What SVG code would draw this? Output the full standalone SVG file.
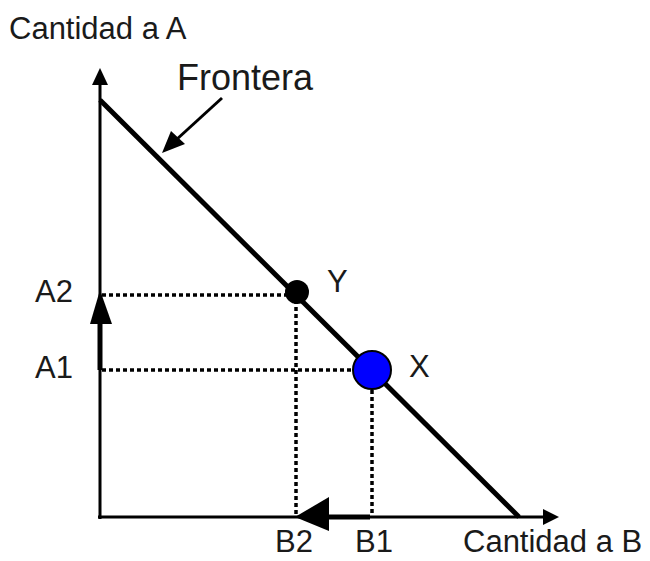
<svg xmlns="http://www.w3.org/2000/svg" width="650" height="561" viewBox="0 0 650 561">
<style>
text{font-family:"Liberation Sans",Arial,sans-serif;fill:#1a1a1a}
.lbl{font-size:31px}
.dash{stroke:#000;stroke-width:3.5;stroke-dasharray:4 3;fill:none}
.axis{stroke:#000;stroke-width:3;fill:none}
</style>
<rect width="650" height="561" fill="#fff"/>
<g id="connectors">
<line class="axis" x1="100" y1="519" x2="100" y2="84"/>
<polygon points="100,68 92,85 108,85" fill="#000"/>
<line class="axis" x1="98" y1="517" x2="545" y2="517"/>
<polygon points="559,517 543,509 543,525" fill="#000"/>
<line x1="100" y1="100" x2="519" y2="517" stroke="#000" stroke-width="5"/>
<line class="dash" x1="102" y1="295" x2="288" y2="295"/>
<line class="dash" x1="296" y1="300" x2="296" y2="515"/>
<line class="dash" x1="102" y1="370" x2="354" y2="370"/>
<line class="dash" x1="372" y1="390" x2="372" y2="515"/>
<line x1="100" y1="370" x2="100" y2="320" stroke="#000" stroke-width="5"/>
<polygon points="100,290 90,324 112,324" fill="#000"/>
<line x1="370" y1="517" x2="326" y2="517" stroke="#000" stroke-width="5"/>
<polygon points="295,517 329,497 329,531" fill="#000"/>
<line x1="222" y1="98" x2="176" y2="140" stroke="#000" stroke-width="3"/>
<polygon points="162,153 171,131 185,144" fill="#000"/>
</g>
<g id="nodeY"><circle cx="297" cy="292" r="12" fill="#000"/><text class="lbl" x="327" y="292">Y</text></g>
<g id="nodeX"><circle cx="372" cy="370" r="19" fill="#0000ff" stroke="#000" stroke-width="2"/><text class="lbl" x="409" y="377">X</text></g>
<g id="labels">
<text class="lbl" x="9" y="39">Cantidad a A</text>
<text x="177" y="90" font-size="36">Frontera</text>
<text class="lbl" x="35" y="302">A2</text>
<text class="lbl" x="35" y="378">A1</text>
<text class="lbl" x="275" y="552">B2</text>
<text class="lbl" x="355" y="552">B1</text>
<text class="lbl" x="463" y="552">Cantidad a B</text>
</g>
</svg>
